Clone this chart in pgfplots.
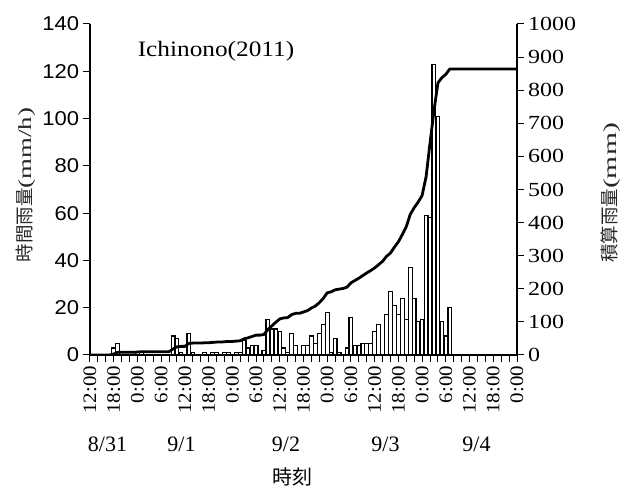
\documentclass[border=0pt]{standalone}
\usepackage{fontspec}
\usepackage{graphicx}
\usepackage{pgfplots}
\usepackage{pgfplotstable}
\pgfplotsset{compat=1.18}
\setmainfont{Liberation Serif}
\newfontfamily\serf{Liberation Serif}
\newfontfamily\sansf{Liberation Sans}
\newfontfamily\cjk{Noto Sans CJK JP}

% hourly rainfall (mm/h); h = hours after 8/31 12:00
\pgfplotstableread{
h r
6 3
7 5
12 1
13 1
21 8
22 7
23 1
25 9
26 1
29 1
31 1
32 1
34 1
35 1
37 1
38 1
39 6
40 3
41 4
42 4
44 2
45 15
46 11
47 11
48 10
49 3
50 1
51 9
52 4
54 4
55 4
56 8
57 5
58 9
59 13
60 18
61 1
62 7
63 1
65 3
66 16
67 4
68 4
69 5
70 5
71 5
72 10
73 13
75 17
76 27
77 21
78 17
79 24
80 15
81 37
82 24
83 14
84 15
85 59
86 58
87 123
88 101
89 14
90 8
91 20
}\bars

% cumulative rainfall (mm)
\pgfplotstableread{
h c
0 0
5 0
6 3
7 8
11 8
12 9
13 10
20 10
21 18
22 25
23 26
24 26
25 35
26 36
28 36
29 37
30 37
31 38
32 39
33 39
34 40
35 41
36 41
37 42
38 43
39 49
40 52
41 56
42 60
43 60
44 62
45 77
46 88
47 99
48 109
49 112
50 113
51 122
52 126
53 126
54 130
55 134
56 142
57 148
58 158
59 171
60 188
61 191
62 197
63 199
64 201
65 205
66 218
67 225
68 232
69 240
70 248
71 255
72 263
73 273
74 283
75 298
76 308
77 326
78 342
79 364
80 388
81 425
82 445
83 462
84 482
85 538
86 640
87 738
88 822
89 838
90 848
91 864
108 864
}\cum

\begin{document}
\begin{tikzpicture}
\path[use as bounding box] (-90pt,-131pt) rectangle (539pt,355pt);
\begin{axis}[
  at={(0pt,0pt)}, anchor=south west,
  scale only axis, width=427pt, height=331pt,
  xmin=0, xmax=108, ymin=0, ymax=140,
  axis x line*=bottom, axis y line*=left,
  axis line style={line width=1.4pt, -},
  xtick={0,6,...,108},
  xticklabels={12:00,18:00,0:00,6:00,12:00,18:00,0:00,6:00,12:00,18:00,0:00,6:00,12:00,18:00,0:00,6:00,12:00,18:00,0:00},
  minor x tick num=2,
  ytick={0,20,...,140},
  tick align=outside,
  major tick length=7pt, minor tick length=7pt,
  every tick/.style={black, line width=1pt},
  /pgf/number format/assume math mode=true,
  /pgf/number format/1000 sep={},
  xticklabel style={font=\serf\fontsize{19}{19}\selectfont, rotate=90, anchor=east, xscale=1.1},
  yticklabel style={font=\sansf\fontsize{20}{20}\selectfont, xscale=1.1},
]
\addplot[ybar, bar width=0.95, fill=white, draw=black, line width=1.2pt] table[x=h,y=r]{\bars};
\end{axis}
\begin{axis}[
  at={(0pt,0pt)}, anchor=south west,
  scale only axis, width=427pt, height=331pt,
  xmin=0, xmax=108, ymin=0, ymax=1000,
  axis y line*=right, axis x line=none,
  axis line style={line width=1.4pt, -},
  ytick={0,100,...,1000},
  tick align=outside,
  major tick length=7pt,
  every tick/.style={black, line width=1pt},
  /pgf/number format/assume math mode=true,
  /pgf/number format/1000 sep={},
  yticklabel style={font=\serf\fontsize{20}{20}\selectfont, xscale=1.2},
]
\addplot[black, line width=2.8pt, line join=round] table[x=h,y=c]{\cum};
\end{axis}
% title
\node[font=\serf\fontsize{22}{22}\selectfont, xscale=1.15] at (126pt,304pt) {Ichinono(2011)};
% date labels
\node[font=\serf\fontsize{22}{22}\selectfont] at (17.5pt,-89pt) {8/31};
\node[font=\serf\fontsize{22}{22}\selectfont] at (91.5pt,-89pt) {9/1};
\node[font=\serf\fontsize{22}{22}\selectfont] at (196pt,-89pt) {9/2};
\node[font=\serf\fontsize{22}{22}\selectfont] at (295.5pt,-89pt) {9/3};
\node[font=\serf\fontsize{22}{22}\selectfont] at (386.5pt,-89pt) {9/4};
\node[font=\cjk\fontsize{20}{20}\selectfont] at (202pt,-122pt) {時刻};
% axis titles
\node[rotate=90, text=black!85] at (-64pt,170pt) {{\cjk\fontsize{18.5}{18.5}\selectfont 時間雨量}\scalebox{1.45}[1]{\serf\fontsize{18.5}{18.5}\selectfont (mm/h)}};
\node[rotate=90, text=black!85] at (521pt,162pt) {{\cjk\fontsize{18.5}{18.5}\selectfont 積算雨量}\scalebox{1.6}[1]{\serf\fontsize{18.5}{18.5}\selectfont (mm)}};
\end{tikzpicture}
\end{document}
